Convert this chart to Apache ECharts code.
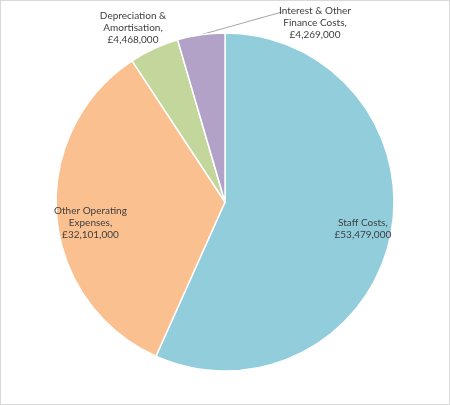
<!DOCTYPE html>
<html>
<head>
<meta charset="utf-8">
<script src="https://cdn.jsdelivr.net/npm/echarts@6/dist/echarts.min.js"></script>
<style>
  html, body { margin: 0; padding: 0; background: #fff; }
  #frame { width: 450px; height: 405px; box-sizing: border-box; border: 1px solid #D9D9D9; }
  #chart { width: 448px; height: 403px; }
</style>
</head>
<body>
<div id="frame"><div id="chart"></div></div>
<script>
// cost categories and amounts (£)
var categories = ['Staff Costs', 'Other Operating Expenses', 'Depreciation & Amortisation', 'Interest & Other Finance Costs'];
var labelNames = ['Staff Costs,', 'Other Operating\nExpenses,', 'Depreciation &\nAmortisation,', 'Interest & Other\nFinance Costs,'];
var values = [53479000, 32101000, 4468000, 4269000];
var colors = ['#92CDDC', '#FAC090', '#C3D69B', '#B3A2C7'];

var myChart = echarts.init(document.getElementById('chart'));

function money(v) {
    return '£' + v.toLocaleString('en-GB');
}

var textStyle = {
    fontFamily: 'Lato',
    fontSize: 10,
    lineHeight: 12,
    color: '#404040',
    align: 'center'
};

// small nudges so the inner labels sit like the original ones
var innerOffsets = [[-1, -3], [7, 9]];

// main slices, outside labels for the two small ones
var mainData = values.map(function (v, i) {
    var small = i >= 2;
    return {
        name: categories[i],
        value: v,
        itemStyle: {color: colors[i]},
        label: {show: small},
        labelLine: {show: i === 3}
    };
});

// transparent ring only used to place the labels of the big slices
var ringData = values.map(function (v, i) {
    return {
        name: categories[i],
        value: v,
        label: {show: i < 2, offset: innerOffsets[i] || [0, 0]}
    };
});

var option = {
    animation: false,
    series: [
        {
            type: 'pie',
            center: [224, 201],
            radius: [0, 169],
            startAngle: 90,
            clockwise: true,
            data: mainData,
            itemStyle: {borderColor: '#fff', borderWidth: 1.5},
            label: Object.assign({
                position: 'outside',
                formatter: function (p) {
                    return labelNames[p.dataIndex] + '\n' + money(p.value);
                }
            }, textStyle),
            labelLine: {lineStyle: {color: '#A6A6A6', width: 1}, length: 10, length2: 10},
            labelLayout: function (p) {
                if (p.dataIndex === 2) {
                    return {x: 132, y: 27, align: 'center', verticalAlign: 'middle'};
                }
                if (p.dataIndex === 3) {
                    var start = p.labelLinePoints ? p.labelLinePoints[0] : [200, 34];
                    return {
                        x: 314, y: 22, align: 'center', verticalAlign: 'middle',
                        labelLinePoints: [start, [281, 11]]
                    };
                }
            },
            emphasis: {disabled: true}
        },
        {
            type: 'pie',
            center: [224, 201],
            radius: [130, 148],
            startAngle: 90,
            clockwise: true,
            silent: true,
            data: ringData,
            itemStyle: {color: 'rgba(0,0,0,0)', borderWidth: 0},
            label: Object.assign({
                position: 'inside',
                formatter: function (p) {
                    return labelNames[p.dataIndex] + '\n' + money(p.value);
                }
            }, textStyle),
            labelLine: {show: false}
        }
    ]
};

myChart.setOption(option);
</script>
</body>
</html>
